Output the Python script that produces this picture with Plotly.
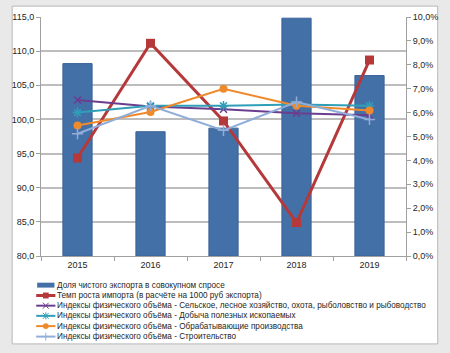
import plotly.graph_objects as go

years = ["2015", "2016", "2017", "2018", "2019"]
net_export_share = [8.05, 5.2, 5.35, 9.95, 7.55]      # %
import_growth = [4.1, 8.9, 5.65, 1.4, 8.2]            # %
idx_agri = [102.85, 101.9, 101.5, 100.9, 100.6]
idx_mining = [101.0, 102.0, 102.0, 102.2, 102.0]
idx_manuf = [99.1, 101.1, 104.5, 102.0, 101.3]
idx_constr = [97.9, 102.0, 98.4, 102.55, 100.0]

names = [
    "Доля чистого экспорта в совокупном спросе",
    "Темп роста импорта (в расчёте на 1000 руб экспорта)",
    "Индексы физического объёма - Сельское, лесное хозяйство, охота, рыболовство и рыбоводство",
    "Индексы физического объёма - Добыча полезных ископаемых",
    "Индексы физического объёма - Обрабатывающие производства",
    "Индексы физического объёма - Строительство",
]
C_BAR = "#4470a8"
C_RED = "#b5393a"
C_PUR = "#6b3d8f"
C_TEAL = "#2f9fb8"
C_ORG = "#ef8a2c"
C_LB = "#8fadd8"

fig = go.Figure()
fig.add_trace(go.Bar(x=years, y=[v / 100 for v in net_export_share], name=names[0],
                     marker=dict(color=C_BAR, line=dict(color="#3a6298", width=1)),
                     yaxis="y"))
fig.add_trace(go.Scatter(x=years, y=[v / 100 for v in import_growth], name=names[1],
                         mode="lines+markers", line=dict(color=C_RED, width=3),
                         marker=dict(symbol="square", size=9, color=C_RED), yaxis="y"))
fig.add_trace(go.Scatter(x=years, y=idx_agri, name=names[2], mode="lines+markers",
                         line=dict(color=C_PUR, width=2),
                         marker=dict(symbol="x-thin-open", size=7, line=dict(color=C_PUR, width=1.5)),
                         yaxis="y2"))
fig.add_trace(go.Scatter(x=years, y=idx_mining, name=names[3], mode="lines+markers",
                         line=dict(color=C_TEAL, width=2),
                         marker=dict(symbol="asterisk-open", size=8, line=dict(color=C_TEAL, width=1.5)),
                         yaxis="y2"))
fig.add_trace(go.Scatter(x=years, y=idx_manuf, name=names[4], mode="lines+markers",
                         line=dict(color=C_ORG, width=2),
                         marker=dict(symbol="circle", size=8, color=C_ORG), yaxis="y2"))
fig.add_trace(go.Scatter(x=years, y=idx_constr, name=names[5], mode="lines+markers",
                         line=dict(color=C_LB, width=2),
                         marker=dict(symbol="cross-thin-open", size=8, line=dict(color=C_LB, width=1.5)),
                         yaxis="y2"))

L, R, T, B = 33, 37, 14, 97
W, H = 450, 353
pw, ph = W - L - R, H - T - B


def px(x):
    return (x - L) / pw


def py(y):
    return (H - B - y) / ph


shapes = [
    dict(type="rect", xref="paper", yref="paper", x0=px(3), x1=px(446), y0=py(345), y1=py(3),
         fillcolor="white", line=dict(color="#b8b8b8", width=1), layer="below"),
]
annotations = []
leg_y = [285.5, 296, 306.3, 316.6, 327, 337.6]
leg_colors = [C_BAR, C_RED, C_PUR, C_TEAL, C_ORG, C_LB]
for i, (nm, c, yy) in enumerate(zip(names, leg_colors, leg_y)):
    if i == 0:
        shapes.append(dict(type="rect", xref="paper", yref="paper", x0=px(29), x1=px(47),
                           y0=py(yy + 2.5), y1=py(yy - 2.5), fillcolor=c, line=dict(width=0)))
    else:
        shapes.append(dict(type="line", xref="paper", yref="paper", x0=px(28), x1=px(48),
                           y0=py(yy), y1=py(yy), line=dict(color=c, width=3 if i == 1 else 2)))
        if i == 1:
            shapes.append(dict(type="rect", xref="paper", yref="paper", x0=px(35), x1=px(41),
                               y0=py(yy + 3), y1=py(yy - 3), fillcolor=c, line=dict(width=0)))
        elif i == 4:
            shapes.append(dict(type="circle", xref="paper", yref="paper", x0=px(35), x1=px(41),
                               y0=py(yy + 3), y1=py(yy - 3), fillcolor=c, line=dict(width=0)))
        elif i in (2, 3):
            for d in (-1, 1):
                shapes.append(dict(type="line", xref="paper", yref="paper", x0=px(35), x1=px(41),
                                   y0=py(yy - 3 * d), y1=py(yy + 3 * d), line=dict(color=c, width=1)))
            if i == 3:
                shapes.append(dict(type="line", xref="paper", yref="paper", x0=px(38), x1=px(38),
                                   y0=py(yy - 3.5), y1=py(yy + 3.5), line=dict(color=c, width=1)))
        elif i == 5:
            shapes.append(dict(type="line", xref="paper", yref="paper", x0=px(38), x1=px(38),
                               y0=py(yy - 4), y1=py(yy + 4), line=dict(color=c, width=1)))
    annotations.append(dict(text=nm, xref="paper", yref="paper", x=px(48), y=py(yy),
                            xanchor="left", yanchor="middle", showarrow=False,
                            font=dict(size=8.2, color="#262626")))

fig.update_layout(
    width=W, height=H,
    margin=dict(l=L, r=R, t=T, b=B, pad=0),
    paper_bgcolor="#e9e9e9", plot_bgcolor="white",
    font=dict(family="Liberation Sans, Arial, sans-serif", size=9, color="#262626"),
    separators=", ",
    showlegend=False,
    bargap=0.6,
    xaxis=dict(type="category", showline=True, linecolor="#a0a0a0", linewidth=1,
               ticks="outside", tickson="boundaries", ticklen=4, tickcolor="#a0a0a0",
               showgrid=False, tickfont=dict(size=9)),
    yaxis=dict(side="right", range=[0, 0.1], dtick=0.01, tickformat=".1%",
               showgrid=False, showline=True, linecolor="#a0a0a0", linewidth=1,
               ticks="outside", ticklen=4, tickcolor="#a0a0a0", zeroline=False,
               tickfont=dict(size=9)),
    yaxis2=dict(overlaying="y", side="left", range=[80, 115], dtick=5, tickformat=".1f",
                showgrid=True, gridcolor="#bdbdbd", gridwidth=1.5,
                showline=True, linecolor="#a0a0a0", linewidth=1,
                ticks="outside", ticklen=4, tickcolor="#a0a0a0", zeroline=False,
                tickfont=dict(size=9)),
    shapes=shapes,
    annotations=annotations,
)

fig.write_html("out.html")
